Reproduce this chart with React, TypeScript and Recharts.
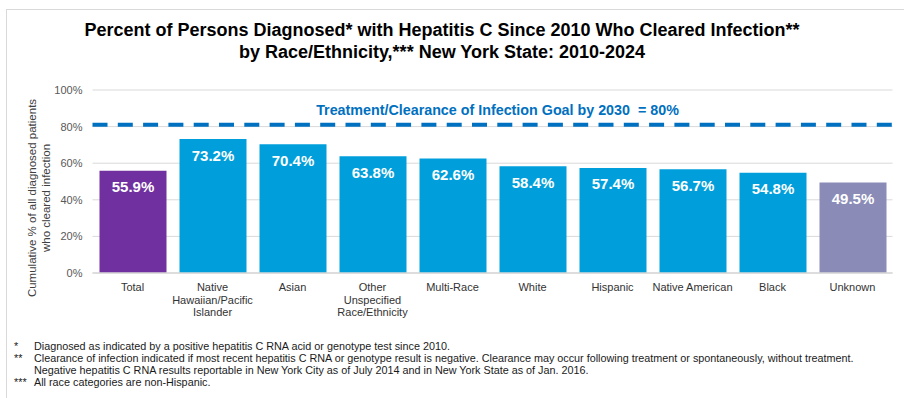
import { BarChart, Bar, XAxis, YAxis, CartesianGrid, ReferenceLine, LabelList, Cell } from "recharts";

const categories = [
  "Total",
  "Native Hawaiian/Pacific Islander",
  "Asian",
  "Other Unspecified Race/Ethnicity",
  "Multi-Race",
  "White",
  "Hispanic",
  "Native American",
  "Black",
  "Unknown",
];

const tickLines: string[][] = [
  ["Total"],
  ["Native", "Hawaiian/Pacific", "Islander"],
  ["Asian"],
  ["Other", "Unspecified", "Race/Ethnicity"],
  ["Multi-Race"],
  ["White"],
  ["Hispanic"],
  ["Native American"],
  ["Black"],
  ["Unknown"],
];

const clearedPct = [55.9, 73.2, 70.4, 63.8, 62.6, 58.4, 57.4, 56.7, 54.8, 49.5];

const barColors = [
  "#7030A0",
  "#009FDB",
  "#009FDB",
  "#009FDB",
  "#009FDB",
  "#009FDB",
  "#009FDB",
  "#009FDB",
  "#009FDB",
  "#8A8CB7",
];

const yTicks = [0, 20, 40, 60, 80, 100];

// goal line sits a touch above the 80% gridline in the original
const goalLineAt = 81;
const goalText = "Treatment/Clearance of Infection Goal by 2030  = 80%";

const footnotes = [
  { mark: "*", text: "Diagnosed as indicated by a positive hepatitis C RNA acid or genotype test since 2010." },
  {
    mark: "**",
    text: "Clearance of infection indicated if most recent hepatitis C RNA or genotype result is negative. Clearance may occur following treatment or spontaneously, without treatment.",
  },
  { mark: "", text: "Negative hepatitis C RNA results reportable in New York City as of July 2014 and in New York State as of Jan. 2016." },
  { mark: "***", text: "All race categories are non-Hispanic." },
];

const data = categories.map((name, i) => ({ name, value: clearedPct[i], idx: i }));

const FONT = "'Liberation Sans', Arial, Helvetica, sans-serif";

const CategoryTick = (props: any) => {
  const { x, y, payload } = props;
  const lines = tickLines[payload.index] ?? [payload.value];
  return (
    <text x={x} y={y + 10} textAnchor="middle" fontSize={11} fill="#333333" fontFamily={FONT}>
      {lines.map((l, i) => (
        <tspan key={i} x={x} dy={i === 0 ? 0 : 12.5}>
          {l}
        </tspan>
      ))}
    </text>
  );
};

const ValueLabel = (props: any) => {
  const { x, y, width, value } = props;
  return (
    <text
      x={x + width / 2}
      y={y + 16}
      textAnchor="middle"
      dominantBaseline="central"
      fill="#ffffff"
      fontSize={15}
      fontWeight="bold"
      fontFamily={FONT}
    >
      {value.toFixed(1)}%
    </text>
  );
};

const GoalLabel = (props: any) => {
  const { viewBox } = props;
  return (
    <text
      x={viewBox.x + viewBox.width / 2 + 5}
      y={viewBox.y - 10}
      textAnchor="middle"
      fill="#0070C0"
      fontSize={14.3}
      fontWeight="bold"
      fontFamily={FONT}
      style={{ whiteSpace: "pre" }}
    >
      {goalText}
    </text>
  );
};

const YTitle = () => (
  <text
    transform="rotate(-90, 40, 198)"
    x={40}
    y={198}
    textAnchor="middle"
    fontSize={11.5}
    fill="#404040"
    fontFamily={FONT}
  >
    <tspan x={40} dy={-4}>Cumulative % of all diagnosed patients</tspan>
    <tspan x={40} dy={14}>who cleared infection</tspan>
  </text>
);

export default function App() {
  return (
    <div style={{ position: "absolute", left: 0, top: 0, width: 904, height: 398, background: "#fff", fontFamily: FONT }}>
      <div
        style={{
          position: "absolute",
          left: 6,
          top: 9,
          width: 898,
          height: 389,
          borderTop: "1px solid #d9d9d9",
          borderLeft: "1px solid #d9d9d9",
        }}
      />
      <div
        style={{
          position: "absolute",
          left: 0,
          top: 19,
          width: 884,
          textAlign: "center",
          fontSize: 18,
          fontWeight: "bold",
          lineHeight: "22px",
          color: "#000",
        }}
      >
        <div>Percent of Persons Diagnosed* with Hepatitis C Since 2010 Who Cleared Infection**</div>
        <div>by Race/Ethnicity,*** New York State: 2010-2024</div>
      </div>

      <div style={{ position: "absolute", left: 0, top: 0 }}>
        <BarChart
          width={904}
          height={398}
          data={data}
          margin={{ top: 90, right: 11.5, left: 52.5, bottom: 95 }}
        >
          <CartesianGrid vertical={false} stroke="#d9d9d9" />
          <XAxis
            dataKey="name"
            axisLine={{ stroke: "#d9d9d9", strokeWidth: 1.5 }}
            tickLine={false}
            interval={0}
            height={30}
            tick={<CategoryTick />}
          />
          <YAxis
            width={40}
            domain={[0, 100]}
            ticks={yTicks}
            axisLine={false}
            tickLine={false}
            tickSize={0}
            tickMargin={10}
            tickFormatter={(v: number) => `${v}%`}
            tick={{ fontSize: 11, fill: "#595959", fontFamily: FONT }}
            label={<YTitle />}
          />
          <Bar dataKey="value" barSize={67} isAnimationActive={false}>
            {data.map((d) => (
              <Cell key={d.name} fill={barColors[d.idx]} />
            ))}
            <LabelList dataKey="value" content={<ValueLabel />} />
          </Bar>
          <ReferenceLine
            y={goalLineAt}
            stroke="#0070C0"
            strokeWidth={4}
            strokeDasharray="15 10.3"
            label={<GoalLabel />}
          />
        </BarChart>
      </div>

      <div style={{ position: "absolute", left: 0, top: 340, fontSize: 10.8, color: "#1a1a1a" }}>
        {footnotes.map((f, i) => (
          <div key={i} style={{ position: "absolute", top: i * 12, left: 0, width: 900, height: 12, lineHeight: "12px", whiteSpace: "nowrap" }}>
            <span style={{ position: "absolute", left: 14 }}>{f.mark}</span>
            <span style={{ position: "absolute", left: 34 }}>{f.text}</span>
          </div>
        ))}
      </div>
    </div>
  );
}
